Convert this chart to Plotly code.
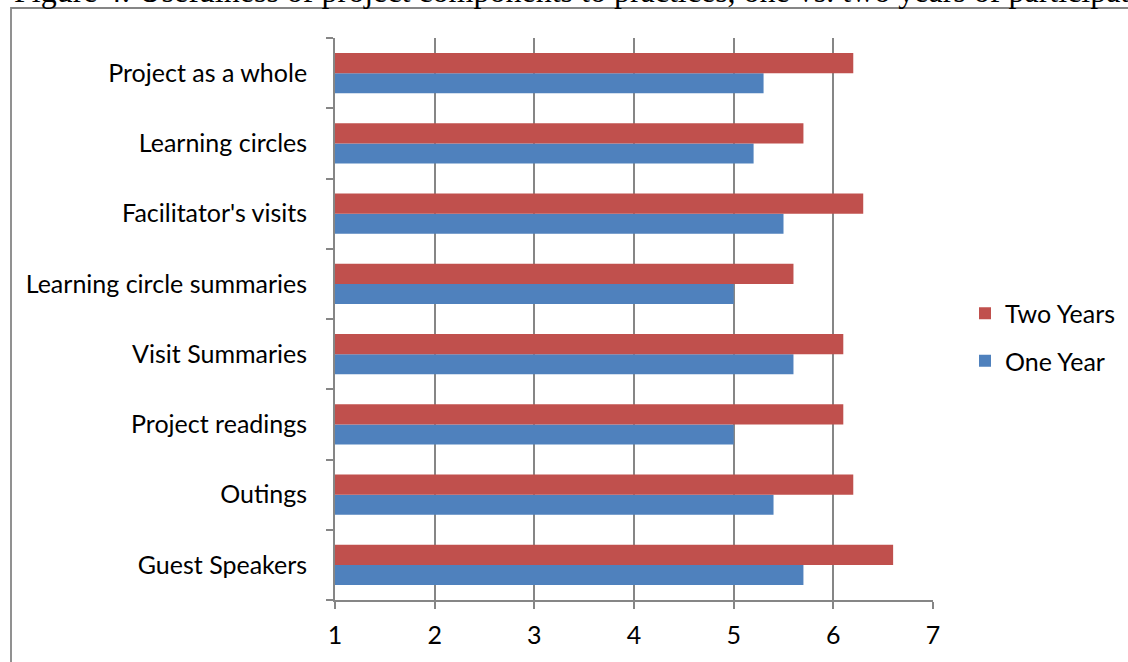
import plotly.graph_objects as go

categories = ["Guest Speakers", "Outings", "Project readings", "Visit Summaries",
              "Learning circle summaries", "Facilitator's visits", "Learning circles",
              "Project as a whole"]
one_year = [5.7, 5.4, 5.0, 5.6, 5.0, 5.5, 5.2, 5.3]
two_years = [6.6, 6.2, 6.1, 6.1, 5.6, 6.3, 5.7, 6.2]
x_ticks = [1, 2, 3, 4, 5, 6, 7]
title_text = "Figure 4: Usefulness of project components to practices, one vs. two years of participation"

W, H = 1128, 662
L, R, T, B = 335, 1128 - 933, 38, 62
PW, PH = W - L - R, H - T - B

def px(x):
    return (x - L) / PW

def py(y):
    return (H - B - y) / PH

GRAY = "#868686"
FONT = "Lato"
FS = 25

fig = go.Figure()
fig.add_trace(go.Bar(y=categories, x=one_year, name="One Year", orientation="h",
                     marker=dict(color="#4F81BD", line=dict(width=0)),
                     legendgroup="a", legendrank=2))
fig.add_trace(go.Bar(y=categories, x=two_years, name="Two Years", orientation="h",
                     marker=dict(color="#C0504D", line=dict(width=0)),
                     legendgroup="b", legendrank=1))

fig.update_layout(
    width=W, height=H, autosize=False,
    margin=dict(l=L, r=R, t=T, b=B, autoexpand=False),
    paper_bgcolor="white", plot_bgcolor="white",
    barmode="group", bargap=0.43, bargroupgap=0,
    font=dict(family=FONT, size=FS, color="black"),
    legend=dict(x=px(965), y=py(337), xanchor="left", yanchor="middle",
                traceorder="grouped", tracegroupgap=12,
                font=dict(family=FONT, size=FS, color="black"),
                bgcolor="rgba(0,0,0,0)"),
    xaxis=dict(range=[1, 7], tickvals=x_ticks, showgrid=True, gridcolor=GRAY, gridwidth=1.8,
               showline=True, linecolor=GRAY, linewidth=1.8, ticks="outside", ticklen=7,
               tickcolor=GRAY, tickwidth=1.8, zeroline=False, ticklabelstandoff=5,
               automargin=False,
               tickfont=dict(family=FONT, size=FS, color="black")),
    yaxis=dict(type="category", categoryorder="array", categoryarray=categories,
               showgrid=False, showline=True, linecolor=GRAY, linewidth=1.8,
               ticks="outside", ticklen=7, tickcolor=GRAY, tickwidth=1.8,
               tickson="boundaries", ticklabelstandoff=21, automargin=False,
               tickfont=dict(family=FONT, size=FS, color="black")),
    shapes=[dict(type="rect", xref="paper", yref="paper",
                 x0=px(11), x1=px(1200), y0=py(700), y1=py(8),
                 line=dict(color=GRAY, width=1.8), fillcolor="rgba(0,0,0,0)")],
    annotations=[dict(text=title_text, xref="paper", yref="paper", x=px(12), y=py(11),
                      xanchor="left", yanchor="bottom", showarrow=False,
                      font=dict(family="Liberation Serif", size=32, color="black"))],
)

fig.write_html("out.html")
